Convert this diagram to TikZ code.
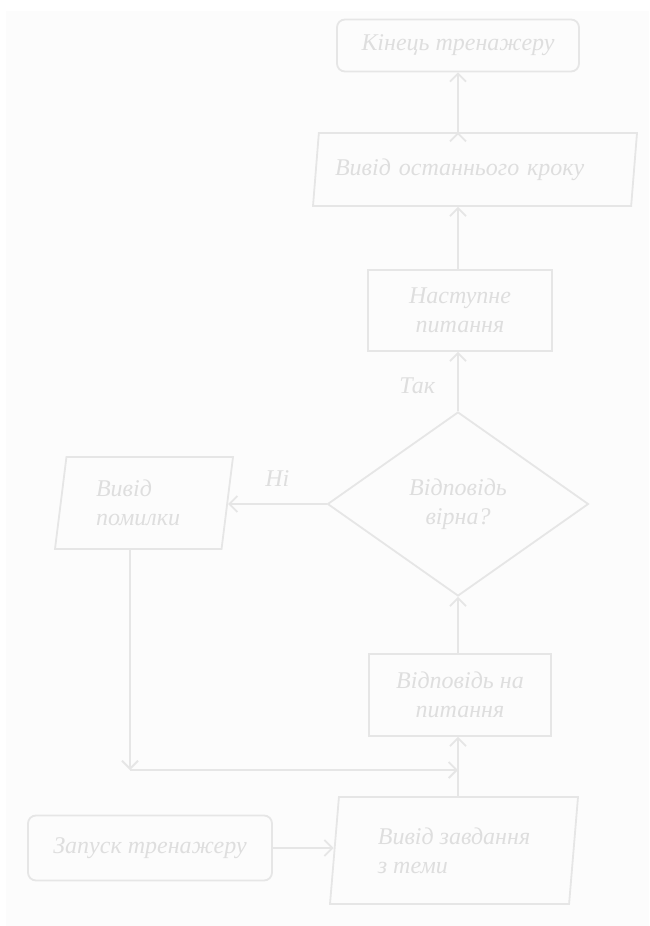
\documentclass[tikz,border=0pt]{standalone}
\usepackage{fontspec}
\setmainfont{Liberation Serif}
\usetikzlibrary{shapes.geometric,arrows.meta}
\definecolor{liniya}{HTML}{E6E6E6}
\definecolor{tekst}{HTML}{DEDEDE}
\definecolor{tlo}{HTML}{FCFCFC}

\begin{document}
\begin{tikzpicture}[x=1pt,y=-1pt,>={Straight Barb[length=8pt,width=16pt]},
    box/.style={draw=liniya,line width=1.8pt,text=tekst,font=\itshape\fontsize{24}{29}\selectfont,inner sep=0pt},
    term node/.style={box,rectangle,rounded corners=8pt,align=center},
    act node/.style={box,rectangle,align=center},
    io node/.style={box,trapezium,trapezium stretches body,align=left},
    if node/.style={box,diamond,align=center},
    note/.style={text=tekst,font=\itshape\fontsize{24}{29}\selectfont,inner sep=0pt}]

    \fill[tlo] (6,11) rectangle (649,926);
    \useasboundingbox (0,0) rectangle (649,926);

    \node[term node,minimum width=242,minimum height=52] (kinets) at (458,45.5) {Кінець тренажеру};
    \node[io node,trapezium left angle=75,trapezium right angle=105,minimum width=324,minimum height=73,text width=280] (krok) at (475,169.5) {Вивід останнього кроку};
    \node[act node,minimum width=184,minimum height=81] (nastupne) at (460,310.5) {Наступне\\питання};
    \node[if node,minimum width=261,minimum height=184] (vidpovid) at (458,504) {Відповідь\\вірна?};
    \node[io node,trapezium left angle=76,trapezium right angle=104,minimum width=178,minimum height=92,text width=96] (pomylka) at (144,503) {Вивід\\помилки};
    \node[act node,minimum width=182,minimum height=82] (vvid) at (460,695) {Відповідь на\\питання};
    \node[io node,trapezium left angle=79,trapezium right angle=101,minimum width=248,minimum height=107] (zavdannya) at (454,850.5) {Вивід завдання\\з теми};
    \node[term node,minimum width=244,minimum height=65] (zapusk) at (150,848) {Запуск тренажеру};

    \coordinate (vuzol) at (458,770);
    \coordinate (zlam) at (130,770);

    \path[->,draw=liniya,line width=1.8pt,every node/.style={note}]
        (zapusk.east) edge (zapusk.east -| zavdannya.west)
        (zavdannya.north -| vuzol) edge (vvid.south -| vuzol)
        (pomylka.south -| zlam) edge (zlam)
        (zlam) edge (vuzol)
        (vvid.north -| vuzol) edge (vidpovid.south)
        (vidpovid.north) edge node[pos=0.43,left=22pt] {Так} (nastupne.south -| vidpovid.north)
        (vidpovid.west) edge node[midway,above=17pt] {Ні} (vidpovid.west -| pomylka.east)
        (nastupne.north -| vuzol) edge (krok.south -| vuzol)
        (krok.north -| vuzol) edge (kinets.south)
        ;
\end{tikzpicture}
\end{document}
